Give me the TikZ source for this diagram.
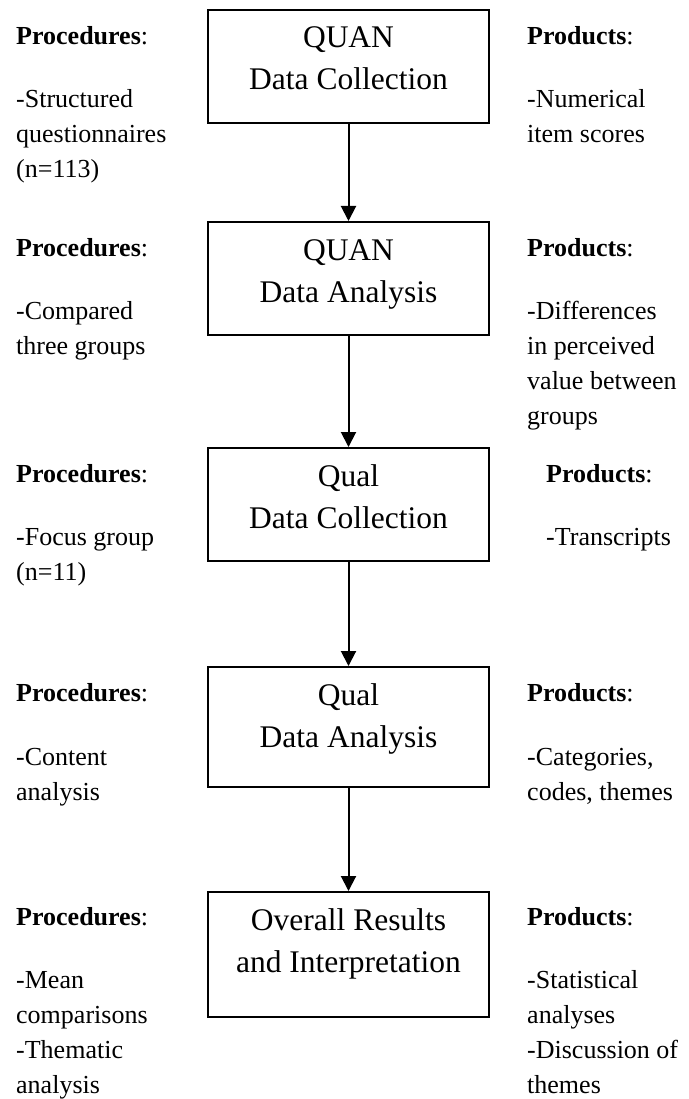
\documentclass[tikz,border=0pt]{standalone}
\usepackage{fontspec}
\setmainfont{Liberation Serif}
\usetikzlibrary{arrows.meta}
\tikzset{
    stagebox/.style={draw, line width=2pt, minimum width=281pt, inner sep=0pt, anchor=north},
    stagetext/.style={align=center, anchor=base, inner sep=0pt,
        font=\fontsize{31.5}{42}\selectfont},
    sidetext/.style={align=left, anchor=base west, inner sep=0pt,
        font=\fontsize{26}{35}\selectfont},
    flowarrow/.style={line width=2pt, -{Triangle[length=15pt,width=15pt]}}
}
\newcommand{\prochead}{\textbf{Procedures}:}
\newcommand{\prodhead}{\textbf{Products}:}

\begin{document}
\begin{tikzpicture}[x=1pt, y=-1pt]
      \useasboundingbox (0,0) rectangle (688,1099);
      % stages (base of a multi-line node = its last line)
      \node[stagebox, minimum height=113pt] (quancol) at (348.5,9) {};
      \node[stagetext] (quancoltxt) at ([yshift=-81pt]quancol.north) {QUAN\\Data Collection};
      \node[stagebox, minimum height=113pt] (quanan) at (348.5,221) {};
      \node[stagetext] (quanantxt) at ([yshift=-81pt]quanan.north) {QUAN\\Data Analysis};
      \node[stagebox, minimum height=113pt] (qualcol) at (348.5,447) {};
      \node[stagetext] (qualcoltxt) at ([yshift=-81pt]qualcol.north) {Qual\\Data Collection};
      \node[stagebox, minimum height=120pt] (qualan) at (348.5,666) {};
      \node[stagetext] (qualantxt) at ([yshift=-81pt]qualan.north) {Qual\\Data Analysis};
      \node[stagebox, minimum height=125pt] (overall) at (348.5,891) {};
      \node[stagetext] (overalltxt) at ([yshift=-81pt]overall.north) {Overall Results\\and Interpretation};
      \draw[flowarrow] (quancol) -- (quanan);
      \draw[flowarrow] (quanan) -- (qualcol);
      \draw[flowarrow] (qualcol) -- (qualan);
      \draw[flowarrow] (qualan) -- (overall);
      % procedures
      \node[sidetext] (proca) at (16,45) {\prochead};
      \node[sidetext] (procalist) at (16,178) {-Structured\\questionnaires\\(n=113)};
      \node[sidetext] (procb) at (16,256) {\prochead};
      \node[sidetext] (procblist) at (16,354) {-Compared\\three groups};
      \node[sidetext] (procc) at (16,482) {\prochead};
      \node[sidetext] (procclist) at (16,580) {-Focus group\\(n=11)};
      \node[sidetext] (procd) at (16,701) {\prochead};
      \node[sidetext] (procdlist) at (16,800) {-Content\\analysis};
      \node[sidetext] (proce) at (16,925) {\prochead};
      \node[sidetext] (procelist) at (16,1093) {-Mean\\comparisons\\-Thematic\\analysis};
      % products
      \node[sidetext] (proda) at (527,45) {\prodhead};
      \node[sidetext] (prodalist) at (527,143) {-Numerical\\item scores};
      \node[sidetext] (prodb) at (527,256) {\prodhead};
      \node[sidetext] (prodblist) at (527,424) {-Differences\\in perceived\\value between\\groups};
      \node[sidetext] (prodc) at (546,482) {\prodhead};
      \node[sidetext] (prodclist) at (546,545) {-Transcripts};
      \node[sidetext] (prodd) at (527,701) {\prodhead};
      \node[sidetext] (proddlist) at (527,800) {-Categories,\\codes, themes};
      \node[sidetext] (prode) at (527,925) {\prodhead};
      \node[sidetext] (prodelist) at (527,1093) {-Statistical\\analyses\\-Discussion of\\themes};
\end{tikzpicture}
\end{document}
